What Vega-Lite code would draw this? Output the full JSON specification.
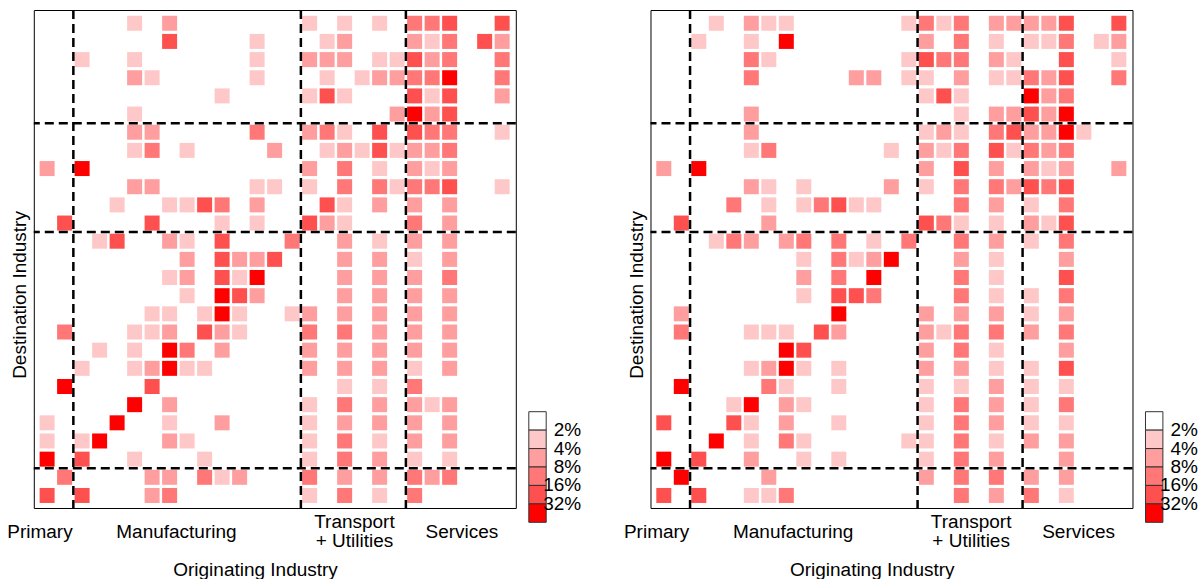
{
  "$schema": "https://vega.github.io/schema/vega-lite/v6.json",
  "padding": {"left": 5.8, "top": 8, "right": 5, "bottom": 0},
  "autosize": {"type": "pad"},
  "bounds": "flush",
  "spacing": 134.7,
  "config": {
    "font": "Liberation Sans",
    "view": {"stroke": "black", "strokeWidth": 1},
    "text": {"font": "Liberation Sans", "fontSize": 19, "color": "black"}
  },
  "resolve": {"scale": {"color": "independent"}, "legend": {"color": "independent"}},
  "datasets": {
    "bounds": [{"b": 1.5}, {"b": 14.5}, {"b": 20.5}],
    "groups": [
      {"label": "Primary", "pos": -0.41},
      {"label": "Manufacturing", "pos": 7.39},
      {"label": "Services", "pos": 23.7}
    ],
    "groups2": [
      {"label": "Transport\n+ Utilities", "pos": 17.56}
    ],
    "xtitle": [{"title": "Originating Industry"}],
    "ytitle": [{"title": "Destination Industry"}],
    "left": [
      {"orig":5,"dest":26,"log2pct":1.5},{"orig":7,"dest":26,"log2pct":2.5},{"orig":15,"dest":26,"log2pct":1.5},{"orig":17,"dest":26,"log2pct":1.5},{"orig":19,"dest":26,"log2pct":1.5},{"orig":21,"dest":26,"log2pct":3.5},{"orig":22,"dest":26,"log2pct":3.5},{"orig":23,"dest":26,"log2pct":4.5},{"orig":26,"dest":26,"log2pct":4.5},
      {"orig":7,"dest":25,"log2pct":4.5},{"orig":12,"dest":25,"log2pct":1.5},{"orig":16,"dest":25,"log2pct":1.5},{"orig":17,"dest":25,"log2pct":2.5},{"orig":21,"dest":25,"log2pct":2.5},{"orig":22,"dest":25,"log2pct":1.5},{"orig":23,"dest":25,"log2pct":3.5},{"orig":25,"dest":25,"log2pct":4.5},{"orig":26,"dest":25,"log2pct":2.5},
      {"orig":2,"dest":24,"log2pct":1.5},{"orig":5,"dest":24,"log2pct":1.5},{"orig":12,"dest":24,"log2pct":1.5},{"orig":15,"dest":24,"log2pct":2.5},{"orig":16,"dest":24,"log2pct":2.5},{"orig":17,"dest":24,"log2pct":2.5},{"orig":19,"dest":24,"log2pct":1.5},{"orig":20,"dest":24,"log2pct":1.5},{"orig":21,"dest":24,"log2pct":4.5},{"orig":22,"dest":24,"log2pct":2.5},{"orig":23,"dest":24,"log2pct":3.5},{"orig":26,"dest":24,"log2pct":3.5},
      {"orig":5,"dest":23,"log2pct":2.5},{"orig":6,"dest":23,"log2pct":1.5},{"orig":12,"dest":23,"log2pct":1.5},{"orig":16,"dest":23,"log2pct":1.5},{"orig":18,"dest":23,"log2pct":1.5},{"orig":19,"dest":23,"log2pct":2.5},{"orig":20,"dest":23,"log2pct":2.5},{"orig":21,"dest":23,"log2pct":3.5},{"orig":22,"dest":23,"log2pct":3.5},{"orig":23,"dest":23,"log2pct":5.5},{"orig":26,"dest":23,"log2pct":3.5},
      {"orig":10,"dest":22,"log2pct":1.5},{"orig":15,"dest":22,"log2pct":1.5},{"orig":16,"dest":22,"log2pct":4.5},{"orig":17,"dest":22,"log2pct":1.5},{"orig":21,"dest":22,"log2pct":4.5},{"orig":22,"dest":22,"log2pct":1.5},{"orig":23,"dest":22,"log2pct":4.5},{"orig":26,"dest":22,"log2pct":2.5},
      {"orig":5,"dest":21,"log2pct":1.5},{"orig":20,"dest":21,"log2pct":2.5},{"orig":21,"dest":21,"log2pct":5.5},{"orig":22,"dest":21,"log2pct":2.5},{"orig":23,"dest":21,"log2pct":4.5},
      {"orig":5,"dest":20,"log2pct":2.5},{"orig":6,"dest":20,"log2pct":2.5},{"orig":12,"dest":20,"log2pct":3.5},{"orig":15,"dest":20,"log2pct":2.5},{"orig":16,"dest":20,"log2pct":3.5},{"orig":17,"dest":20,"log2pct":1.5},{"orig":19,"dest":20,"log2pct":4.5},{"orig":21,"dest":20,"log2pct":4.5},{"orig":22,"dest":20,"log2pct":3.5},{"orig":23,"dest":20,"log2pct":3.5},{"orig":26,"dest":20,"log2pct":1.5},
      {"orig":5,"dest":19,"log2pct":1.5},{"orig":6,"dest":19,"log2pct":3.5},{"orig":8,"dest":19,"log2pct":1.5},{"orig":13,"dest":19,"log2pct":2.5},{"orig":16,"dest":19,"log2pct":1.5},{"orig":17,"dest":19,"log2pct":2.5},{"orig":18,"dest":19,"log2pct":1.5},{"orig":19,"dest":19,"log2pct":4.5},{"orig":20,"dest":19,"log2pct":1.5},{"orig":21,"dest":19,"log2pct":2.5},{"orig":22,"dest":19,"log2pct":2.5},{"orig":23,"dest":19,"log2pct":3.5},
      {"orig":0,"dest":18,"log2pct":2.5},{"orig":2,"dest":18,"log2pct":5.5},{"orig":15,"dest":18,"log2pct":2.5},{"orig":17,"dest":18,"log2pct":3.5},{"orig":19,"dest":18,"log2pct":1.5},{"orig":21,"dest":18,"log2pct":2.5},{"orig":22,"dest":18,"log2pct":1.5},{"orig":23,"dest":18,"log2pct":2.5},
      {"orig":5,"dest":17,"log2pct":2.5},{"orig":6,"dest":17,"log2pct":2.5},{"orig":12,"dest":17,"log2pct":1.5},{"orig":13,"dest":17,"log2pct":1.5},{"orig":15,"dest":17,"log2pct":1.5},{"orig":17,"dest":17,"log2pct":3.5},{"orig":19,"dest":17,"log2pct":3.5},{"orig":20,"dest":17,"log2pct":1.5},{"orig":21,"dest":17,"log2pct":3.5},{"orig":22,"dest":17,"log2pct":3.5},{"orig":23,"dest":17,"log2pct":4.5},{"orig":26,"dest":17,"log2pct":1.5},
      {"orig":4,"dest":16,"log2pct":1.5},{"orig":7,"dest":16,"log2pct":1.5},{"orig":8,"dest":16,"log2pct":1.5},{"orig":9,"dest":16,"log2pct":4.5},{"orig":10,"dest":16,"log2pct":3.5},{"orig":12,"dest":16,"log2pct":2.5},{"orig":16,"dest":16,"log2pct":4.5},{"orig":17,"dest":16,"log2pct":1.5},{"orig":19,"dest":16,"log2pct":2.5},{"orig":21,"dest":16,"log2pct":2.5},{"orig":23,"dest":16,"log2pct":2.5},
      {"orig":1,"dest":15,"log2pct":4.5},{"orig":6,"dest":15,"log2pct":4.5},{"orig":10,"dest":15,"log2pct":1.5},{"orig":12,"dest":15,"log2pct":1.5},{"orig":15,"dest":15,"log2pct":4.5},{"orig":16,"dest":15,"log2pct":2.5},{"orig":17,"dest":15,"log2pct":1.5},{"orig":21,"dest":15,"log2pct":3.5},{"orig":23,"dest":15,"log2pct":2.5},
      {"orig":3,"dest":14,"log2pct":1.5},{"orig":4,"dest":14,"log2pct":4.5},{"orig":7,"dest":14,"log2pct":2.5},{"orig":8,"dest":14,"log2pct":1.5},{"orig":10,"dest":14,"log2pct":4.5},{"orig":14,"dest":14,"log2pct":3.5},{"orig":17,"dest":14,"log2pct":2.5},{"orig":19,"dest":14,"log2pct":1.5},{"orig":21,"dest":14,"log2pct":2.5},{"orig":23,"dest":14,"log2pct":2.5},
      {"orig":8,"dest":13,"log2pct":2.5},{"orig":10,"dest":13,"log2pct":4.5},{"orig":11,"dest":13,"log2pct":2.5},{"orig":12,"dest":13,"log2pct":2.5},{"orig":13,"dest":13,"log2pct":4.5},{"orig":17,"dest":13,"log2pct":2.5},{"orig":19,"dest":13,"log2pct":2.5},{"orig":21,"dest":13,"log2pct":1.5},{"orig":23,"dest":13,"log2pct":2.5},
      {"orig":7,"dest":12,"log2pct":1.5},{"orig":8,"dest":12,"log2pct":2.5},{"orig":10,"dest":12,"log2pct":4.5},{"orig":11,"dest":12,"log2pct":1.5},{"orig":12,"dest":12,"log2pct":5.5},{"orig":17,"dest":12,"log2pct":2.5},{"orig":19,"dest":12,"log2pct":2.5},{"orig":21,"dest":12,"log2pct":2.5},{"orig":23,"dest":12,"log2pct":3.5},
      {"orig":8,"dest":11,"log2pct":1.5},{"orig":10,"dest":11,"log2pct":5.5},{"orig":11,"dest":11,"log2pct":4.5},{"orig":12,"dest":11,"log2pct":2.5},{"orig":17,"dest":11,"log2pct":2.5},{"orig":19,"dest":11,"log2pct":2.5},{"orig":21,"dest":11,"log2pct":2.5},{"orig":23,"dest":11,"log2pct":2.5},
      {"orig":6,"dest":10,"log2pct":1.5},{"orig":7,"dest":10,"log2pct":1.5},{"orig":9,"dest":10,"log2pct":1.5},{"orig":10,"dest":10,"log2pct":5.5},{"orig":11,"dest":10,"log2pct":1.5},{"orig":14,"dest":10,"log2pct":1.5},{"orig":15,"dest":10,"log2pct":2.5},{"orig":17,"dest":10,"log2pct":2.5},{"orig":19,"dest":10,"log2pct":2.5},{"orig":21,"dest":10,"log2pct":2.5},{"orig":23,"dest":10,"log2pct":2.5},
      {"orig":1,"dest":9,"log2pct":3.5},{"orig":5,"dest":9,"log2pct":1.5},{"orig":6,"dest":9,"log2pct":1.5},{"orig":7,"dest":9,"log2pct":2.5},{"orig":9,"dest":9,"log2pct":4.5},{"orig":10,"dest":9,"log2pct":2.5},{"orig":11,"dest":9,"log2pct":1.5},{"orig":15,"dest":9,"log2pct":3.5},{"orig":17,"dest":9,"log2pct":3.5},{"orig":19,"dest":9,"log2pct":2.5},{"orig":21,"dest":9,"log2pct":2.5},{"orig":23,"dest":9,"log2pct":2.5},
      {"orig":3,"dest":8,"log2pct":1.5},{"orig":5,"dest":8,"log2pct":1.5},{"orig":7,"dest":8,"log2pct":5.5},{"orig":8,"dest":8,"log2pct":3.5},{"orig":10,"dest":8,"log2pct":2.5},{"orig":15,"dest":8,"log2pct":2.5},{"orig":17,"dest":8,"log2pct":2.5},{"orig":19,"dest":8,"log2pct":2.5},{"orig":21,"dest":8,"log2pct":2.5},{"orig":23,"dest":8,"log2pct":2.5},
      {"orig":2,"dest":7,"log2pct":1.5},{"orig":5,"dest":7,"log2pct":1.5},{"orig":6,"dest":7,"log2pct":2.5},{"orig":7,"dest":7,"log2pct":5.5},{"orig":8,"dest":7,"log2pct":1.5},{"orig":9,"dest":7,"log2pct":1.5},{"orig":15,"dest":7,"log2pct":2.5},{"orig":17,"dest":7,"log2pct":2.5},{"orig":19,"dest":7,"log2pct":2.5},{"orig":21,"dest":7,"log2pct":1.5},{"orig":23,"dest":7,"log2pct":2.5},
      {"orig":1,"dest":6,"log2pct":5.5},{"orig":6,"dest":6,"log2pct":4.5},{"orig":17,"dest":6,"log2pct":1.5},{"orig":19,"dest":6,"log2pct":1.5},{"orig":21,"dest":6,"log2pct":3.5},
      {"orig":5,"dest":5,"log2pct":5.5},{"orig":7,"dest":5,"log2pct":2.5},{"orig":15,"dest":5,"log2pct":1.5},{"orig":17,"dest":5,"log2pct":3.5},{"orig":19,"dest":5,"log2pct":2.5},{"orig":21,"dest":5,"log2pct":2.5},{"orig":22,"dest":5,"log2pct":1.5},{"orig":23,"dest":5,"log2pct":2.5},
      {"orig":0,"dest":4,"log2pct":1.5},{"orig":4,"dest":4,"log2pct":5.5},{"orig":7,"dest":4,"log2pct":1.5},{"orig":10,"dest":4,"log2pct":2.5},{"orig":15,"dest":4,"log2pct":1.5},{"orig":17,"dest":4,"log2pct":2.5},{"orig":19,"dest":4,"log2pct":2.5},{"orig":21,"dest":4,"log2pct":2.5},{"orig":23,"dest":4,"log2pct":2.5},
      {"orig":0,"dest":3,"log2pct":1.5},{"orig":2,"dest":3,"log2pct":1.5},{"orig":3,"dest":3,"log2pct":5.5},{"orig":7,"dest":3,"log2pct":2.5},{"orig":8,"dest":3,"log2pct":1.5},{"orig":15,"dest":3,"log2pct":1.5},{"orig":17,"dest":3,"log2pct":3.5},{"orig":19,"dest":3,"log2pct":1.5},{"orig":21,"dest":3,"log2pct":2.5},{"orig":23,"dest":3,"log2pct":2.5},
      {"orig":0,"dest":2,"log2pct":5.5},{"orig":2,"dest":2,"log2pct":4.5},{"orig":5,"dest":2,"log2pct":1.5},{"orig":9,"dest":2,"log2pct":1.5},{"orig":15,"dest":2,"log2pct":1.5},{"orig":17,"dest":2,"log2pct":3.5},{"orig":19,"dest":2,"log2pct":2.5},{"orig":21,"dest":2,"log2pct":1.5},{"orig":23,"dest":2,"log2pct":1.5},
      {"orig":1,"dest":1,"log2pct":3.5},{"orig":6,"dest":1,"log2pct":2.5},{"orig":7,"dest":1,"log2pct":2.5},{"orig":9,"dest":1,"log2pct":3.5},{"orig":10,"dest":1,"log2pct":1.5},{"orig":11,"dest":1,"log2pct":2.5},{"orig":15,"dest":1,"log2pct":3.5},{"orig":17,"dest":1,"log2pct":2.5},{"orig":19,"dest":1,"log2pct":2.5},{"orig":21,"dest":1,"log2pct":3.5},{"orig":22,"dest":1,"log2pct":2.5},{"orig":23,"dest":1,"log2pct":3.5},
      {"orig":0,"dest":0,"log2pct":4.5},{"orig":2,"dest":0,"log2pct":4.5},{"orig":6,"dest":0,"log2pct":2.5},{"orig":7,"dest":0,"log2pct":3.5},{"orig":15,"dest":0,"log2pct":1.5},{"orig":17,"dest":0,"log2pct":3.5},{"orig":19,"dest":0,"log2pct":1.5},{"orig":21,"dest":0,"log2pct":3.5}
    ],
    "right": [
      {"orig":3,"dest":26,"log2pct":1.5},{"orig":5,"dest":26,"log2pct":2.5},{"orig":6,"dest":26,"log2pct":1.5},{"orig":7,"dest":26,"log2pct":1.5},{"orig":14,"dest":26,"log2pct":1.5},{"orig":15,"dest":26,"log2pct":3.5},{"orig":16,"dest":26,"log2pct":1.5},{"orig":17,"dest":26,"log2pct":3.5},{"orig":19,"dest":26,"log2pct":2.5},{"orig":20,"dest":26,"log2pct":2.5},{"orig":21,"dest":26,"log2pct":2.5},{"orig":22,"dest":26,"log2pct":2.5},{"orig":23,"dest":26,"log2pct":4.5},{"orig":26,"dest":26,"log2pct":4.5},
      {"orig":2,"dest":25,"log2pct":1.5},{"orig":5,"dest":25,"log2pct":1.5},{"orig":7,"dest":25,"log2pct":5.5},{"orig":15,"dest":25,"log2pct":2.5},{"orig":17,"dest":25,"log2pct":3.5},{"orig":19,"dest":25,"log2pct":1.5},{"orig":21,"dest":25,"log2pct":1.5},{"orig":22,"dest":25,"log2pct":1.5},{"orig":23,"dest":25,"log2pct":3.5},{"orig":25,"dest":25,"log2pct":1.5},{"orig":26,"dest":25,"log2pct":2.5},
      {"orig":5,"dest":24,"log2pct":3.5},{"orig":6,"dest":24,"log2pct":1.5},{"orig":14,"dest":24,"log2pct":1.5},{"orig":15,"dest":24,"log2pct":4.5},{"orig":16,"dest":24,"log2pct":3.5},{"orig":17,"dest":24,"log2pct":3.5},{"orig":19,"dest":24,"log2pct":2.5},{"orig":20,"dest":24,"log2pct":1.5},{"orig":23,"dest":24,"log2pct":4.5},{"orig":26,"dest":24,"log2pct":1.5},
      {"orig":5,"dest":23,"log2pct":3.5},{"orig":11,"dest":23,"log2pct":2.5},{"orig":12,"dest":23,"log2pct":2.5},{"orig":14,"dest":23,"log2pct":1.5},{"orig":15,"dest":23,"log2pct":1.5},{"orig":17,"dest":23,"log2pct":2.5},{"orig":19,"dest":23,"log2pct":1.5},{"orig":20,"dest":23,"log2pct":1.5},{"orig":21,"dest":23,"log2pct":3.5},{"orig":22,"dest":23,"log2pct":2.5},{"orig":23,"dest":23,"log2pct":4.5},{"orig":26,"dest":23,"log2pct":3.5},
      {"orig":15,"dest":22,"log2pct":1.5},{"orig":16,"dest":22,"log2pct":4.5},{"orig":17,"dest":22,"log2pct":1.5},{"orig":21,"dest":22,"log2pct":5.5},{"orig":22,"dest":22,"log2pct":2.5},{"orig":23,"dest":22,"log2pct":3.5},
      {"orig":5,"dest":21,"log2pct":2.5},{"orig":17,"dest":21,"log2pct":1.5},{"orig":19,"dest":21,"log2pct":2.5},{"orig":20,"dest":21,"log2pct":2.5},{"orig":21,"dest":21,"log2pct":4.5},{"orig":22,"dest":21,"log2pct":2.5},{"orig":23,"dest":21,"log2pct":5.5},
      {"orig":5,"dest":20,"log2pct":2.5},{"orig":15,"dest":20,"log2pct":1.5},{"orig":16,"dest":20,"log2pct":2.5},{"orig":17,"dest":20,"log2pct":1.5},{"orig":19,"dest":20,"log2pct":3.5},{"orig":20,"dest":20,"log2pct":4.5},{"orig":21,"dest":20,"log2pct":2.5},{"orig":22,"dest":20,"log2pct":2.5},{"orig":23,"dest":20,"log2pct":5.5},{"orig":24,"dest":20,"log2pct":1.5},
      {"orig":5,"dest":19,"log2pct":1.5},{"orig":6,"dest":19,"log2pct":3.5},{"orig":13,"dest":19,"log2pct":1.5},{"orig":15,"dest":19,"log2pct":2.5},{"orig":16,"dest":19,"log2pct":1.5},{"orig":17,"dest":19,"log2pct":3.5},{"orig":19,"dest":19,"log2pct":4.5},{"orig":20,"dest":19,"log2pct":1.5},{"orig":21,"dest":19,"log2pct":3.5},{"orig":22,"dest":19,"log2pct":2.5},{"orig":23,"dest":19,"log2pct":3.5},
      {"orig":0,"dest":18,"log2pct":2.5},{"orig":2,"dest":18,"log2pct":5.5},{"orig":15,"dest":18,"log2pct":2.5},{"orig":17,"dest":18,"log2pct":4.5},{"orig":19,"dest":18,"log2pct":2.5},{"orig":21,"dest":18,"log2pct":2.5},{"orig":22,"dest":18,"log2pct":1.5},{"orig":23,"dest":18,"log2pct":2.5},{"orig":26,"dest":18,"log2pct":2.5},
      {"orig":5,"dest":17,"log2pct":2.5},{"orig":6,"dest":17,"log2pct":1.5},{"orig":8,"dest":17,"log2pct":1.5},{"orig":13,"dest":17,"log2pct":2.5},{"orig":15,"dest":17,"log2pct":1.5},{"orig":17,"dest":17,"log2pct":3.5},{"orig":19,"dest":17,"log2pct":3.5},{"orig":20,"dest":17,"log2pct":2.5},{"orig":21,"dest":17,"log2pct":4.5},{"orig":22,"dest":17,"log2pct":3.5},{"orig":23,"dest":17,"log2pct":4.5},
      {"orig":4,"dest":16,"log2pct":3.5},{"orig":6,"dest":16,"log2pct":1.5},{"orig":8,"dest":16,"log2pct":1.5},{"orig":9,"dest":16,"log2pct":3.5},{"orig":10,"dest":16,"log2pct":4.5},{"orig":11,"dest":16,"log2pct":1.5},{"orig":12,"dest":16,"log2pct":1.5},{"orig":17,"dest":16,"log2pct":3.5},{"orig":19,"dest":16,"log2pct":2.5},{"orig":21,"dest":16,"log2pct":1.5},{"orig":23,"dest":16,"log2pct":3.5},
      {"orig":1,"dest":15,"log2pct":4.5},{"orig":6,"dest":15,"log2pct":2.5},{"orig":15,"dest":15,"log2pct":4.5},{"orig":16,"dest":15,"log2pct":3.5},{"orig":17,"dest":15,"log2pct":1.5},{"orig":19,"dest":15,"log2pct":1.5},{"orig":21,"dest":15,"log2pct":2.5},{"orig":22,"dest":15,"log2pct":1.5},{"orig":23,"dest":15,"log2pct":4.5},
      {"orig":3,"dest":14,"log2pct":1.5},{"orig":4,"dest":14,"log2pct":3.5},{"orig":5,"dest":14,"log2pct":2.5},{"orig":7,"dest":14,"log2pct":2.5},{"orig":8,"dest":14,"log2pct":3.5},{"orig":10,"dest":14,"log2pct":3.5},{"orig":12,"dest":14,"log2pct":1.5},{"orig":14,"dest":14,"log2pct":3.5},{"orig":17,"dest":14,"log2pct":3.5},{"orig":19,"dest":14,"log2pct":2.5},{"orig":21,"dest":14,"log2pct":1.5},{"orig":23,"dest":14,"log2pct":3.5},
      {"orig":8,"dest":13,"log2pct":1.5},{"orig":10,"dest":13,"log2pct":3.5},{"orig":11,"dest":13,"log2pct":1.5},{"orig":12,"dest":13,"log2pct":2.5},{"orig":13,"dest":13,"log2pct":5.5},{"orig":17,"dest":13,"log2pct":2.5},{"orig":19,"dest":13,"log2pct":1.5},{"orig":23,"dest":13,"log2pct":2.5},
      {"orig":8,"dest":12,"log2pct":2.5},{"orig":10,"dest":12,"log2pct":3.5},{"orig":12,"dest":12,"log2pct":5.5},{"orig":17,"dest":12,"log2pct":3.5},{"orig":19,"dest":12,"log2pct":1.5},{"orig":23,"dest":12,"log2pct":4.5},
      {"orig":8,"dest":11,"log2pct":1.5},{"orig":10,"dest":11,"log2pct":4.5},{"orig":11,"dest":11,"log2pct":4.5},{"orig":12,"dest":11,"log2pct":3.5},{"orig":17,"dest":11,"log2pct":3.5},{"orig":19,"dest":11,"log2pct":1.5},{"orig":21,"dest":11,"log2pct":1.5},{"orig":23,"dest":11,"log2pct":3.5},
      {"orig":1,"dest":10,"log2pct":2.5},{"orig":10,"dest":10,"log2pct":5.5},{"orig":15,"dest":10,"log2pct":2.5},{"orig":17,"dest":10,"log2pct":2.5},{"orig":19,"dest":10,"log2pct":2.5},{"orig":21,"dest":10,"log2pct":1.5},{"orig":23,"dest":10,"log2pct":2.5},
      {"orig":1,"dest":9,"log2pct":3.5},{"orig":5,"dest":9,"log2pct":1.5},{"orig":6,"dest":9,"log2pct":1.5},{"orig":7,"dest":9,"log2pct":1.5},{"orig":9,"dest":9,"log2pct":4.5},{"orig":10,"dest":9,"log2pct":2.5},{"orig":15,"dest":9,"log2pct":2.5},{"orig":16,"dest":9,"log2pct":1.5},{"orig":17,"dest":9,"log2pct":3.5},{"orig":19,"dest":9,"log2pct":3.5},{"orig":21,"dest":9,"log2pct":2.5},{"orig":23,"dest":9,"log2pct":3.5},
      {"orig":7,"dest":8,"log2pct":5.5},{"orig":8,"dest":8,"log2pct":4.5},{"orig":15,"dest":8,"log2pct":2.5},{"orig":17,"dest":8,"log2pct":3.5},{"orig":19,"dest":8,"log2pct":1.5},{"orig":23,"dest":8,"log2pct":2.5},
      {"orig":5,"dest":7,"log2pct":1.5},{"orig":6,"dest":7,"log2pct":2.5},{"orig":7,"dest":7,"log2pct":5.5},{"orig":8,"dest":7,"log2pct":1.5},{"orig":10,"dest":7,"log2pct":1.5},{"orig":15,"dest":7,"log2pct":2.5},{"orig":17,"dest":7,"log2pct":2.5},{"orig":19,"dest":7,"log2pct":1.5},{"orig":21,"dest":7,"log2pct":1.5},{"orig":23,"dest":7,"log2pct":4.5},
      {"orig":1,"dest":6,"log2pct":5.5},{"orig":6,"dest":6,"log2pct":3.5},{"orig":7,"dest":6,"log2pct":1.5},{"orig":10,"dest":6,"log2pct":1.5},{"orig":15,"dest":6,"log2pct":1.5},{"orig":17,"dest":6,"log2pct":1.5},{"orig":19,"dest":6,"log2pct":2.5},{"orig":21,"dest":6,"log2pct":1.5},{"orig":23,"dest":6,"log2pct":1.5},
      {"orig":4,"dest":5,"log2pct":1.5},{"orig":5,"dest":5,"log2pct":5.5},{"orig":7,"dest":5,"log2pct":2.5},{"orig":8,"dest":5,"log2pct":1.5},{"orig":15,"dest":5,"log2pct":1.5},{"orig":17,"dest":5,"log2pct":3.5},{"orig":19,"dest":5,"log2pct":2.5},{"orig":21,"dest":5,"log2pct":1.5},{"orig":23,"dest":5,"log2pct":3.5},
      {"orig":0,"dest":4,"log2pct":4.5},{"orig":4,"dest":4,"log2pct":4.5},{"orig":5,"dest":4,"log2pct":1.5},{"orig":7,"dest":4,"log2pct":2.5},{"orig":10,"dest":4,"log2pct":1.5},{"orig":15,"dest":4,"log2pct":1.5},{"orig":17,"dest":4,"log2pct":3.5},{"orig":19,"dest":4,"log2pct":2.5},{"orig":21,"dest":4,"log2pct":1.5},{"orig":23,"dest":4,"log2pct":1.5},
      {"orig":3,"dest":3,"log2pct":5.5},{"orig":5,"dest":3,"log2pct":1.5},{"orig":7,"dest":3,"log2pct":3.5},{"orig":8,"dest":3,"log2pct":1.5},{"orig":14,"dest":3,"log2pct":1.5},{"orig":15,"dest":3,"log2pct":1.5},{"orig":17,"dest":3,"log2pct":3.5},{"orig":19,"dest":3,"log2pct":1.5},{"orig":21,"dest":3,"log2pct":2.5},{"orig":23,"dest":3,"log2pct":2.5},
      {"orig":0,"dest":2,"log2pct":5.5},{"orig":2,"dest":2,"log2pct":4.5},{"orig":5,"dest":2,"log2pct":2.5},{"orig":8,"dest":2,"log2pct":1.5},{"orig":10,"dest":2,"log2pct":1.5},{"orig":15,"dest":2,"log2pct":1.5},{"orig":17,"dest":2,"log2pct":3.5},{"orig":19,"dest":2,"log2pct":2.5},{"orig":23,"dest":2,"log2pct":2.5},
      {"orig":1,"dest":1,"log2pct":5.5},{"orig":6,"dest":1,"log2pct":2.5},{"orig":15,"dest":1,"log2pct":2.5},{"orig":17,"dest":1,"log2pct":3.5},{"orig":19,"dest":1,"log2pct":3.5},{"orig":21,"dest":1,"log2pct":2.5},{"orig":23,"dest":1,"log2pct":2.5},
      {"orig":0,"dest":0,"log2pct":4.5},{"orig":2,"dest":0,"log2pct":4.5},{"orig":5,"dest":0,"log2pct":1.5},{"orig":6,"dest":0,"log2pct":1.5},{"orig":7,"dest":0,"log2pct":3.5},{"orig":17,"dest":0,"log2pct":3.5},{"orig":19,"dest":0,"log2pct":2.5},{"orig":21,"dest":0,"log2pct":3.5},{"orig":23,"dest":0,"log2pct":1.5}
    ]
  },
  "hconcat": [
    {
      "width": 482,
      "height": 498,
      "layer": [
        {
          "data": {"name": "left"},
          "mark": {"type": "square", "size": 225, "opacity": 1},
          "encoding": {
            "x": {"field": "orig", "type": "quantitative",
              "scale": {"domain": [-0.76, 26.78], "nice": false, "zero": false},
              "axis": {"values": [1.5, 14.5, 20.5], "labels": false, "ticks": true, "tickSize": 8, "tickColor": "#333333", "tickWidth": 1, "domain": false, "grid": false, "title": null}},
            "y": {"field": "dest", "type": "quantitative",
              "scale": {"domain": [-0.69, 26.73], "nice": false, "zero": false},
              "axis": null},
            "color": {"field": "log2pct", "type": "quantitative",
              "scale": {"type": "threshold", "domain": [1, 2, 3, 4, 5], "range": ["#FFFFFF", "#FFC8C8", "#FF9E9E", "#FF7777", "#FF5050", "#FF0000"]},
              "legend": {"type": "gradient", "orient": "none", "legendX": 495, "legendY": 401.7, "direction": "vertical", "title": null, "padding": 0,
                "gradientLength": 110.6, "gradientThickness": 17.4, "gradientStrokeColor": "#333333", "gradientStrokeWidth": 1,
                "labelFont": "Liberation Sans", "labelFontSize": 19, "labelColor": "black", "labelBaseline": "middle", "labelOffset": 35, "labelOverlap": false,
                "labelExpr": "isFinite(datum.value) ? pow(2, datum.value) + '%' : ''",
                "encoding": {
                  "gradient": {"y": {"value": {"expr": "datum.perc * 110.6"}}, "y2": {"value": {"expr": "datum.perc2 * 110.6"}}},
                  "labels": {"y": {"value": {"expr": "datum.perc * 110.6"}}, "align": {"value": "right"}}
                }}}
          }
        },
        {
          "data": {"name": "bounds"},
          "mark": {"type": "rule", "color": "black", "strokeWidth": 2.5, "strokeDash": [9, 5]},
          "encoding": {"x": {"field": "b", "type": "quantitative", "scale": {"domain": [-0.76, 26.78], "nice": false, "zero": false}, "axis": null}}
        },
        {
          "data": {"name": "bounds"},
          "mark": {"type": "rule", "color": "black", "strokeWidth": 2.5, "strokeDash": [9, 5]},
          "encoding": {"y": {"field": "b", "type": "quantitative", "scale": {"domain": [-0.69, 26.73], "nice": false, "zero": false}, "axis": null}}
        },
        {
          "data": {"name": "groups"},
          "mark": {"type": "text", "baseline": "middle", "align": "center"},
          "encoding": {
            "x": {"field": "pos", "type": "quantitative", "scale": {"domain": [-0.76, 26.78], "nice": false, "zero": false}, "axis": null},
            "y": {"datum": -2.01, "type": "quantitative", "scale": {"domain": [-0.69, 26.73], "nice": false, "zero": false}, "axis": null},
            "text": {"field": "label"}
          }
        },
        {
          "data": {"name": "groups2"},
          "mark": {"type": "text", "baseline": "middle", "align": "center", "lineBreak": "\n", "lineHeight": 19},
          "encoding": {
            "x": {"field": "pos", "type": "quantitative", "scale": {"domain": [-0.76, 26.78], "nice": false, "zero": false}, "axis": null},
            "y": {"datum": -1.48, "type": "quantitative", "scale": {"domain": [-0.69, 26.73], "nice": false, "zero": false}, "axis": null},
            "text": {"field": "label"}
          }
        },
        {
          "data": {"name": "xtitle"},
          "mark": {"type": "text", "baseline": "alphabetic", "align": "center"},
          "encoding": {
            "x": {"datum": 11.91, "type": "quantitative", "scale": {"domain": [-0.76, 26.78], "nice": false, "zero": false}, "axis": null},
            "y": {"datum": -4.44, "type": "quantitative", "scale": {"domain": [-0.69, 26.73], "nice": false, "zero": false}, "axis": null},
            "text": {"field": "title"}
          }
        },
        {
          "data": {"name": "ytitle"},
          "mark": {"type": "text", "baseline": "middle", "align": "center", "angle": 270},
          "encoding": {
            "x": {"datum": -1.55, "type": "quantitative", "scale": {"domain": [-0.76, 26.78], "nice": false, "zero": false}, "axis": null},
            "y": {"datum": 11.04, "type": "quantitative", "scale": {"domain": [-0.69, 26.73], "nice": false, "zero": false}, "axis": null},
            "text": {"field": "title"}
          }
        }
      ]
    },
    {
      "width": 482,
      "height": 498,
      "layer": [
        {
          "data": {"name": "right"},
          "mark": {"type": "square", "size": 225, "opacity": 1},
          "encoding": {
            "x": {"field": "orig", "type": "quantitative",
              "scale": {"domain": [-0.76, 26.78], "nice": false, "zero": false},
              "axis": {"values": [1.5, 14.5, 20.5], "labels": false, "ticks": true, "tickSize": 8, "tickColor": "#333333", "tickWidth": 1, "domain": false, "grid": false, "title": null}},
            "y": {"field": "dest", "type": "quantitative",
              "scale": {"domain": [-0.69, 26.73], "nice": false, "zero": false},
              "axis": null},
            "color": {"field": "log2pct", "type": "quantitative",
              "scale": {"type": "threshold", "domain": [1, 2, 3, 4, 5], "range": ["#FFFFFF", "#FFC8C8", "#FF9E9E", "#FF7777", "#FF5050", "#FF0000"]},
              "legend": {"type": "gradient", "orient": "none", "legendX": 495, "legendY": 401.7, "direction": "vertical", "title": null, "padding": 0,
                "gradientLength": 110.6, "gradientThickness": 17.4, "gradientStrokeColor": "#333333", "gradientStrokeWidth": 1,
                "labelFont": "Liberation Sans", "labelFontSize": 19, "labelColor": "black", "labelBaseline": "middle", "labelOffset": 35, "labelOverlap": false,
                "labelExpr": "isFinite(datum.value) ? pow(2, datum.value) + '%' : ''",
                "encoding": {
                  "gradient": {"y": {"value": {"expr": "datum.perc * 110.6"}}, "y2": {"value": {"expr": "datum.perc2 * 110.6"}}},
                  "labels": {"y": {"value": {"expr": "datum.perc * 110.6"}}, "align": {"value": "right"}}
                }}}
          }
        },
        {
          "data": {"name": "bounds"},
          "mark": {"type": "rule", "color": "black", "strokeWidth": 2.5, "strokeDash": [9, 5]},
          "encoding": {"x": {"field": "b", "type": "quantitative", "scale": {"domain": [-0.76, 26.78], "nice": false, "zero": false}, "axis": null}}
        },
        {
          "data": {"name": "bounds"},
          "mark": {"type": "rule", "color": "black", "strokeWidth": 2.5, "strokeDash": [9, 5]},
          "encoding": {"y": {"field": "b", "type": "quantitative", "scale": {"domain": [-0.69, 26.73], "nice": false, "zero": false}, "axis": null}}
        },
        {
          "data": {"name": "groups"},
          "mark": {"type": "text", "baseline": "middle", "align": "center"},
          "encoding": {
            "x": {"field": "pos", "type": "quantitative", "scale": {"domain": [-0.76, 26.78], "nice": false, "zero": false}, "axis": null},
            "y": {"datum": -2.01, "type": "quantitative", "scale": {"domain": [-0.69, 26.73], "nice": false, "zero": false}, "axis": null},
            "text": {"field": "label"}
          }
        },
        {
          "data": {"name": "groups2"},
          "mark": {"type": "text", "baseline": "middle", "align": "center", "lineBreak": "\n", "lineHeight": 19},
          "encoding": {
            "x": {"field": "pos", "type": "quantitative", "scale": {"domain": [-0.76, 26.78], "nice": false, "zero": false}, "axis": null},
            "y": {"datum": -1.48, "type": "quantitative", "scale": {"domain": [-0.69, 26.73], "nice": false, "zero": false}, "axis": null},
            "text": {"field": "label"}
          }
        },
        {
          "data": {"name": "xtitle"},
          "mark": {"type": "text", "baseline": "alphabetic", "align": "center"},
          "encoding": {
            "x": {"datum": 11.91, "type": "quantitative", "scale": {"domain": [-0.76, 26.78], "nice": false, "zero": false}, "axis": null},
            "y": {"datum": -4.44, "type": "quantitative", "scale": {"domain": [-0.69, 26.73], "nice": false, "zero": false}, "axis": null},
            "text": {"field": "title"}
          }
        },
        {
          "data": {"name": "ytitle"},
          "mark": {"type": "text", "baseline": "middle", "align": "center", "angle": 270},
          "encoding": {
            "x": {"datum": -1.55, "type": "quantitative", "scale": {"domain": [-0.76, 26.78], "nice": false, "zero": false}, "axis": null},
            "y": {"datum": 11.04, "type": "quantitative", "scale": {"domain": [-0.69, 26.73], "nice": false, "zero": false}, "axis": null},
            "text": {"field": "title"}
          }
        }
      ]
    }
  ]
}
